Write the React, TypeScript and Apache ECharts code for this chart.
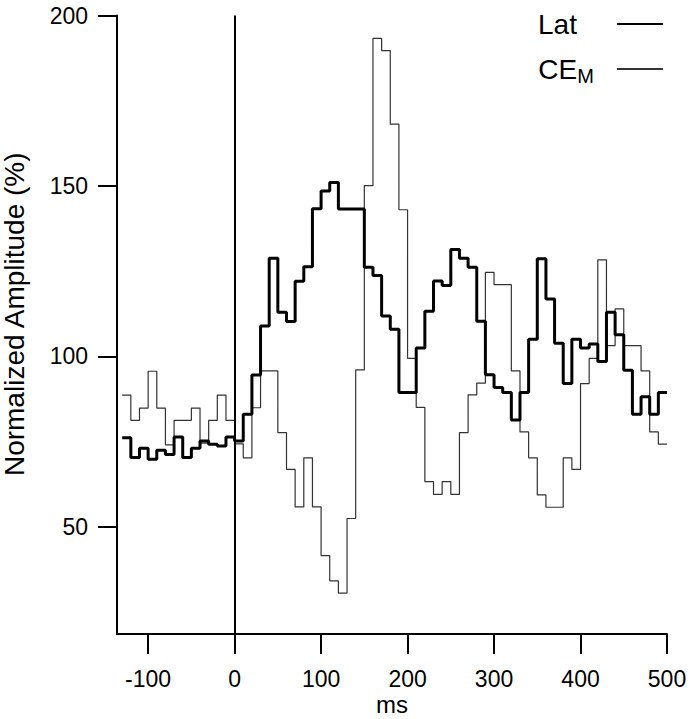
import React, { useEffect, useRef } from "react";
import * as echarts from "echarts";

// Bin edges (ms) of the peri-stimulus histograms
const binEdges = [
  -130, -120, -110, -100, -90, -80, -70, -60, -50, -40, -30, -20, -10,
  0, 10, 20, 30, 40, 50, 60, 70, 80, 90, 100, 110, 120, 130, 140, 150,
  160, 170, 180, 190, 200, 210, 220, 230, 240, 250, 260, 270, 280, 290,
  300, 310, 320, 330, 340, 350, 360, 370, 380, 390, 400, 410, 420, 430,
  440, 450, 460, 470, 480, 490, 500,
];

// Lat (thick line), one value per bin
const latValues = [
  76.1, 70.3, 73.0, 69.8, 72.4, 71.2, 76.3, 70.3, 73.0, 75.1, 74.2, 73.7, 76.3,
  75.1, 83.0, 94.5, 108.9, 128.8, 112.9, 110.2, 122.0, 126.3, 143.3, 148.5, 151.0,
  143.2, 143.2, 143.2, 126.1, 123.7, 111.8, 107.9, 89.4, 89.4, 102.4, 113.2, 122.1,
  120.8, 131.3, 128.8, 126.1, 110.3, 94.6, 90.8, 89.4, 81.3, 89.4, 105.0, 128.6,
  116.8, 103.8, 92.0, 105.0, 102.4, 103.6, 98.5, 112.9, 106.3, 95.9, 83.0, 88.1,
  83.0, 89.4,
];

// CE_M (thin line), one value per bin
const ceValues = [
  88.6, 81.2, 84.8, 95.6, 84.8, 74.0, 81.2, 81.2, 84.8, 74.5, 81.2, 88.6, 81.2,
  74.3, 70.2, 84.9, 95.7, 95.7, 77.6, 66.8, 55.8, 70.2, 55.8, 41.5, 34.1,
  30.5, 52.4, 96.0, 150.1, 193.3, 189.7, 168.1, 143.0, 99.4, 85.0, 63.2, 59.5,
  63.2, 59.5, 77.6, 88.7, 92.1, 124.6, 121.0, 121.0, 95.7, 77.8, 70.2, 59.3,
  55.7, 55.7, 70.2, 66.8, 92.0, 99.4, 128.3, 103.1, 113.9, 103.1, 103.1, 95.7,
  77.8, 74.2,
];

const xTicks = [-100, 0, 100, 200, 300, 400, 500];
const yTicks = [50, 100, 150, 200];

const FONT = "'Liberation Sans', Arial, Helvetica, sans-serif";

function stepData(values: number[]) {
  return binEdges.map((e, i) => [e, values[Math.min(i, values.length - 1)]]);
}

export default function App() {
  const ref = useRef<HTMLDivElement>(null);
  useEffect(() => {
    if (!ref.current) return;
    const chart = echarts.init(ref.current, undefined, { renderer: "svg" });
    chart.setOption({
      animation: false,
      backgroundColor: "#fff",
      textStyle: { fontFamily: FONT, color: "#000" },
      grid: {
        left: 117,
        right: 26,
        top: 15.5,
        bottom: 85,
        containLabel: false,
        outerBoundsMode: "none",
      },
      legend: {
        data: ["Lat", "CEM"],
        orient: "vertical",
        left: 533,
        top: 5,
        align: "right",
        itemWidth: 46,
        itemHeight: 14,
        itemGap: 17,
        selectedMode: false,
        itemStyle: { opacity: 0 },
        formatter: (name: string) =>
          name === "CEM" ? "{a|CE}{b|M}{p2|}" : "{a|Lat}{p1|}",
        textStyle: {
          fontFamily: FONT,
          color: "#000",
          rich: {
            a: { fontSize: 28, lineHeight: 34, fontFamily: FONT, color: "#000" },
            b: {
              fontSize: 20,
              lineHeight: 20,
              verticalAlign: "bottom",
              fontFamily: FONT,
              color: "#000",
            },
            p1: { width: 35, fontSize: 28, lineHeight: 34 },
            p2: { width: 18, fontSize: 28, lineHeight: 34 },
          },
        },
      },
      xAxis: {
        type: "value",
        min: -136,
        max: 500,
        name: "ms",
        nameLocation: "middle",
        nameGap: 61,
        nameMoveOverlap: false,
        nameTextStyle: { fontSize: 24, lineHeight: 18, fontFamily: FONT, color: "#000" },
        splitLine: { show: false },
        axisLine: { show: true, onZero: false, lineStyle: { color: "#000", width: 2 } },
        axisTick: {
          show: true,
          length: 20,
          customValues: xTicks,
          lineStyle: { color: "#000", width: 2 },
        },
        axisLabel: {
          customValues: xTicks,
          fontSize: 23,
          lineHeight: 20,
          margin: 35,
          color: "#000",
          fontFamily: FONT,
        },
      },
      yAxis: {
        type: "value",
        min: 18.5,
        max: 200,
        name: "Normalized Amplitude (%)",
        nameLocation: "middle",
        nameGap: 89,
        nameMoveOverlap: false,
        nameTextStyle: {
          fontSize: 28,
          fontFamily: FONT,
          color: "#000",
          padding: [0, 0, 0, 21],
        },
        splitLine: { show: false },
        axisLine: { show: true, onZero: false, lineStyle: { color: "#000", width: 2 } },
        axisTick: {
          show: true,
          length: 19,
          customValues: yTicks,
          lineStyle: { color: "#000", width: 2 },
        },
        axisLabel: {
          customValues: yTicks,
          fontSize: 23,
          margin: 29,
          color: "#000",
          fontFamily: FONT,
        },
      },
      series: [
        {
          name: "CEM",
          type: "line",
          step: "end",
          symbol: "none",
          z: 2,
          data: stepData(ceValues),
          lineStyle: { color: "#333", width: 1.2 },
          itemStyle: { color: "#333" },
        },
        {
          name: "Lat",
          type: "line",
          step: "end",
          symbol: "none",
          z: 3,
          data: stepData(latValues),
          lineStyle: { color: "#000", width: 3 },
          itemStyle: { color: "#000" },
          markLine: {
            silent: true,
            symbol: ["none", "none"],
            label: { show: false },
            lineStyle: { color: "#000", width: 2, type: "solid" },
            data: [{ xAxis: 0 }],
          },
        },
      ],
    });
    return () => chart.dispose();
  }, []);
  return (
    <div
      ref={ref}
      style={{ position: "fixed", left: 0, top: 0, width: 693, height: 719 }}
    />
  );
}
